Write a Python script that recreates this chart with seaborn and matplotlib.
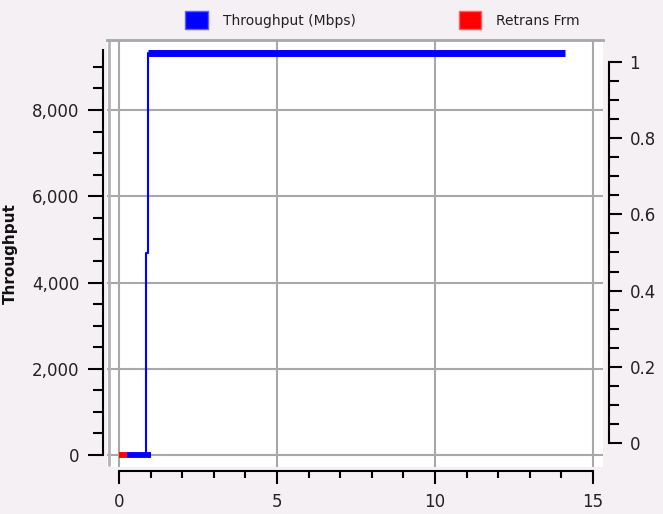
import numpy as np
import pandas as pd
import matplotlib
matplotlib.use("Agg")
import matplotlib.pyplot as plt
from matplotlib.patches import Patch
from matplotlib.ticker import FixedLocator, FuncFormatter
import seaborn as sns

# data
ramp_time = [0.855, 0.855, 0.92, 0.92]
ramp_mbps = [0, 4690, 4690, 9330]
idle_time = [0.25, 1.01]
idle_mbps = [0, 0]
steady_time = [0.92, 14.11]
steady_mbps = [9330, 9330]
retrans_time = [0.0, 0.25]
retrans_frm = [0, 0]

x_ticks = [0, 5, 10, 15]
y_ticks = [0, 2000, 4000, 6000, 8000]
frm_ticks = [0, 0.2, 0.4, 0.6, 0.8, 1]

bg = "#f4f0f4"
grid_c = "#a8a8a8"

sns.set_theme(style="white")
plt.rcParams["font.family"] = ["DejaVu Sans"]

fig = plt.figure(figsize=(6.63, 5.14), dpi=100, facecolor=bg)
ax = fig.add_axes([107 / 663, 1 - 467 / 514, 496 / 663, 427 / 514])
ax.set_facecolor("white")

ax.set_xlim(-0.38, 15.32)
ax.set_ylim(-278, 9623)

# grid + frame
for v in x_ticks:
    ax.axvline(v, color=grid_c, lw=1.5, zorder=1)
for v in y_ticks:
    ax.axhline(v, color=grid_c, lw=1.5, zorder=1)
ax.axvline(-0.33, ymin=0.005, ymax=1, color="#b4b4b4", lw=2, zorder=1)

# series
sns.lineplot(x=ramp_time, y=ramp_mbps, ax=ax, color="blue", lw=1.5,
             estimator=None, sort=False, zorder=3)
sns.lineplot(x=idle_time, y=idle_mbps, ax=ax, color="blue", lw=4.2,
             estimator=None, sort=False, solid_capstyle="butt", zorder=3)
sns.lineplot(x=steady_time, y=steady_mbps, ax=ax, color="blue", lw=5,
             estimator=None, sort=False, solid_capstyle="butt", zorder=3)
sns.lineplot(x=retrans_time, y=retrans_frm, ax=ax, color="red", lw=4.2,
             estimator=None, sort=False, solid_capstyle="butt", zorder=4)

# spines
ax.spines["right"].set_visible(False)
ax.spines["top"].set_color(grid_c)
ax.spines["top"].set_linewidth(2)
ax.spines["left"].set_position(("outward", 3))
ax.spines["left"].set_bounds(0, 9400)
ax.spines["left"].set_color("black")
ax.spines["left"].set_linewidth(1.5)
ax.spines["bottom"].set_position(("outward", 3))
ax.spines["bottom"].set_bounds(0, 15)
ax.spines["bottom"].set_color("black")
ax.spines["bottom"].set_linewidth(1.5)

ax.xaxis.set_major_locator(FixedLocator(x_ticks))
ax.xaxis.set_minor_locator(FixedLocator(np.arange(0, 16, 1)))
ax.yaxis.set_major_locator(FixedLocator(y_ticks))
ax.yaxis.set_minor_locator(FixedLocator(np.arange(0, 9001, 500)))
ax.yaxis.set_major_formatter(FuncFormatter(lambda v, _: f"{v:,.0f}"))
ax.tick_params(axis="both", which="both", direction="out", width=1.5, color="black",
               labelcolor="#222222")
ax.tick_params(axis="y", which="major", length=11, pad=6, labelsize=12, left=True)
ax.tick_params(axis="y", which="minor", length=7, left=True)
ax.tick_params(axis="x", which="major", length=9, pad=7, labelsize=12, bottom=True)
ax.tick_params(axis="x", which="minor", length=5, bottom=True)
ax.set_xlabel("")
ax.set_ylabel("Throughput", fontsize=11, fontweight="bold", color="#111111")
ax.yaxis.set_label_coords(-0.18, 0.5)

# right axis for retransmitted frames
ax2 = ax.twinx()
ax2.set_ylim(-0.063, 1.0577)
for s in ["left", "top", "bottom"]:
    ax2.spines[s].set_visible(False)
ax2.spines["right"].set_position(("outward", 4))
ax2.spines["right"].set_bounds(0, 1)
ax2.spines["right"].set_color("black")
ax2.spines["right"].set_linewidth(1.5)
ax2.yaxis.set_major_locator(FixedLocator(frm_ticks))
ax2.yaxis.set_minor_locator(FixedLocator(np.arange(0, 1.001, 0.05)))
ax2.yaxis.set_major_formatter(FuncFormatter(lambda v, _: f"{v:g}"))
ax2.tick_params(axis="y", which="both", direction="out", width=1.5, color="black",
                labelcolor="#222222", right=True)
ax2.tick_params(axis="y", which="major", length=9, pad=6, labelsize=12)
ax2.tick_params(axis="y", which="minor", length=7)

# legend
handles = [Patch(facecolor="blue", edgecolor="#6060ff", label="Throughput (Mbps)"),
           Patch(facecolor="red", edgecolor="#ff6060", label="Retrans Frm")]
fig.legend(handles=handles, loc="center", bbox_to_anchor=(0.577, 0.961), ncol=2,
           frameon=False, fontsize=10, handlelength=1.6, handleheight=1.6,
           handletextpad=1.1, columnspacing=7.4, labelcolor="#222222")

fig.savefig("out.png", dpi=100, facecolor=bg)
